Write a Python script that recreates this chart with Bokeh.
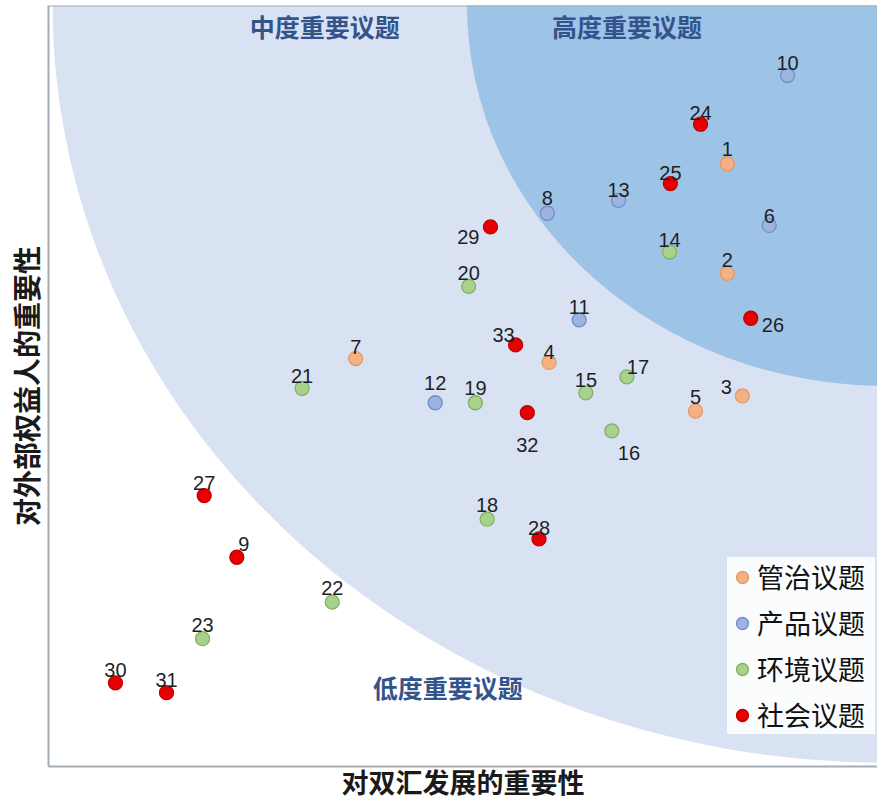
from bokeh.plotting import figure
from bokeh.models import Range1d, Label, Legend, LegendItem, ColumnDataSource, Span, FixedTicker
from bokeh.embed import file_html
from bokeh.resources import INLINE
from bokeh.core.properties import value

# ---- data ----
# x: importance to Shuanghui's development, y: importance to external stakeholders
gov_ids = ["1", "2", "3", "4", "5", "7"]
gov_x = [81.1, 81.1, 82.9, 59.8, 77.3, 36.7]
gov_y = [79.2, 64.8, 48.7, 53.1, 46.7, 53.6]

prod_ids = ["6", "8", "10", "11", "12", "13"]
prod_x = [86.1, 59.6, 88.3, 63.4, 46.2, 68.1]
prod_y = [71.1, 72.7, 90.8, 58.7, 47.8, 74.4]

env_ids = ["14", "15", "16", "17", "18", "19", "20", "21", "22", "23"]
env_x = [74.2, 64.2, 67.3, 69.1, 52.4, 51.0, 50.2, 30.3, 33.9, 18.4]
env_y = [67.6, 49.1, 44.1, 51.2, 32.5, 47.8, 63.1, 49.7, 21.6, 16.8]

soc_ids = ["9", "24", "25", "26", "27", "28", "29", "30", "31", "32", "33"]
soc_x = [22.5, 77.9, 74.3, 83.9, 18.6, 58.6, 52.8, 8.0, 14.1, 57.2, 55.8]
soc_y = [27.5, 84.4, 76.6, 58.9, 35.6, 29.9, 70.9, 11.0, 9.7, 46.5, 55.4]

series_names = ["管治议题", "产品议题", "环境议题", "社会议题"]
zone_names = ["高度重要议题", "中度重要议题", "低度重要议题"]
x_title = "对双汇发展的重要性"
y_title = "对外部权益人的重要性"

# zone radii (quarter ellipses centred on the top-right corner)
X_MAX = 100
Y_MAX = 100
OUTER_R = 99.5
INNER_R = 50

# ---- styles ----
CJK = "Noto Sans CJK SC"
fills = ["#f4b183", "#9db4e0", "#a9d18e", "#e60000"]
lines = ["#e29a66", "#6f8fc8", "#80b25f", "#c00000"]

# label placement tweaks: id -> (dx, dy, align) in screen pixels, baseline alphabetic
label_place = {
    "1": (0, -15, "center"), "8": (0, -15, "center"), "10": (0, -13, "center"),
    "2": (0, -13, "center"), "11": (0, -13, "center"), "20": (0, -13, "center"),
    "12": (0, -20, "center"), "19": (0, -15, "center"), "15": (0, -13, "center"),
    "5": (0, -14, "center"), "18": (0, -14, "center"), "22": (0, -14, "center"),
    "23": (0, -14, "center"), "27": (0, -13, "center"), "9": (7, -13, "center"),
    "17": (11, -10, "center"), "3": (-16, -9, "center"), "33": (-12, -10, "center"),
    "6": (0, -9, "center"), "13": (0, -10, "center"), "24": (0, -11, "center"),
    "25": (0, -11, "center"), "4": (0, -10, "center"), "28": (0, -11, "center"),
    "30": (0, -13, "center"), "31": (0, -13, "center"),
    "29": (-11, 10, "right"), "26": (11, 7, "left"),
    "32": (0, 32, "center"), "16": (6, 22, "left"),
}

p = figure(width=877, height=801, output_backend="svg", toolbar_location=None,
           x_range=Range1d(0, 99.04), y_range=Range1d(0, Y_MAX),
           min_border_left=48, min_border_right=0, min_border_top=5, min_border_bottom=34)
p.background_fill_color = "white"
p.border_fill_color = "white"
p.outline_line_color = None
p.grid.visible = False

for ax in (p.xaxis, p.yaxis):
    ax.ticker = FixedTicker(ticks=[])
    ax.major_tick_line_color = None
    ax.minor_tick_line_color = None
    ax.major_label_text_font_size = "0px"
    ax.axis_line_color = "#a4acb6"
    ax.axis_line_width = 2
    ax.axis_label_text_font_style = "bold"
    ax.axis_label_text_color = "#1a1a1a"
p.xaxis.axis_label = x_title
p.yaxis.axis_label = y_title
p.xaxis.axis_label_text_font = "Liberation Sans, Noto Sans CJK SC"
p.yaxis.axis_label_text_font = CJK
p.xaxis.axis_label_text_font_size = "27px"
p.yaxis.axis_label_text_font_size = "28px"
p.xaxis.axis_label_standoff = 2
p.yaxis.axis_label_standoff = 3
p.add_layout(Span(location=Y_MAX, dimension="width", line_color="#a4acb6", line_width=2))

# zones
p.ellipse(x=[X_MAX], y=[Y_MAX], width=[2 * OUTER_R], height=[2 * OUTER_R],
          fill_color="#d9e2f3", line_color=None)
p.ellipse(x=[X_MAX], y=[Y_MAX], width=[2 * INNER_R], height=[2 * INNER_R],
          fill_color="#9dc3e6", line_color=None)

zone_pos = [(69.1, 97.3), (33.0, 97.3), (47.7, 10.4)]
for name, (zx, zy) in zip(zone_names, zone_pos):
    p.add_layout(Label(x=zx, y=zy, text=name, text_align="center", text_baseline="middle",
                       text_font=CJK, text_font_style="bold", text_font_size="25px",
                       text_color="#33548b"))

series = [(gov_ids, gov_x, gov_y), (prod_ids, prod_x, prod_y),
          (env_ids, env_x, env_y), (soc_ids, soc_x, soc_y)]

items = []
lab = {"left": dict(x=[], y=[], t=[], dx=[], dy=[]),
       "center": dict(x=[], y=[], t=[], dx=[], dy=[]),
       "right": dict(x=[], y=[], t=[], dx=[], dy=[])}
for i, (ids, xs, ys) in enumerate(series):
    r = p.scatter(xs, ys, size=14, fill_color=fills[i], line_color=lines[i], line_width=1.3)
    items.append(LegendItem(label=series_names[i], renderers=[r]))
    for k, xv, yv in zip(ids, xs, ys):
        dx, dy, al = label_place.get(k, (0, -12, "center"))
        d = lab[al]
        d["x"].append(xv); d["y"].append(yv); d["t"].append(k)
        d["dx"].append(dx); d["dy"].append(dy)

for al, d in lab.items():
    src = ColumnDataSource(d)
    p.text(x="x", y="y", text="t", x_offset="dx", y_offset="dy", source=src,
           text_align=al, text_baseline="alphabetic",
           text_font=value("Liberation Sans"), text_font_size="20px", text_color="#1f1f24")

legend = Legend(items=items, location=(679, 32), orientation="vertical",
                label_text_font=CJK, label_text_font_size="27px", label_text_color="#111111",
                glyph_width=30, glyph_height=30, label_height=36, label_width=118,
                spacing=7, padding=3, margin=0, label_standoff=0,
                background_fill_color="#fbfcfe", background_fill_alpha=1.0,
                border_line_color=None)
p.add_layout(legend)

open("out.html", "w").write(file_html(p, INLINE))
